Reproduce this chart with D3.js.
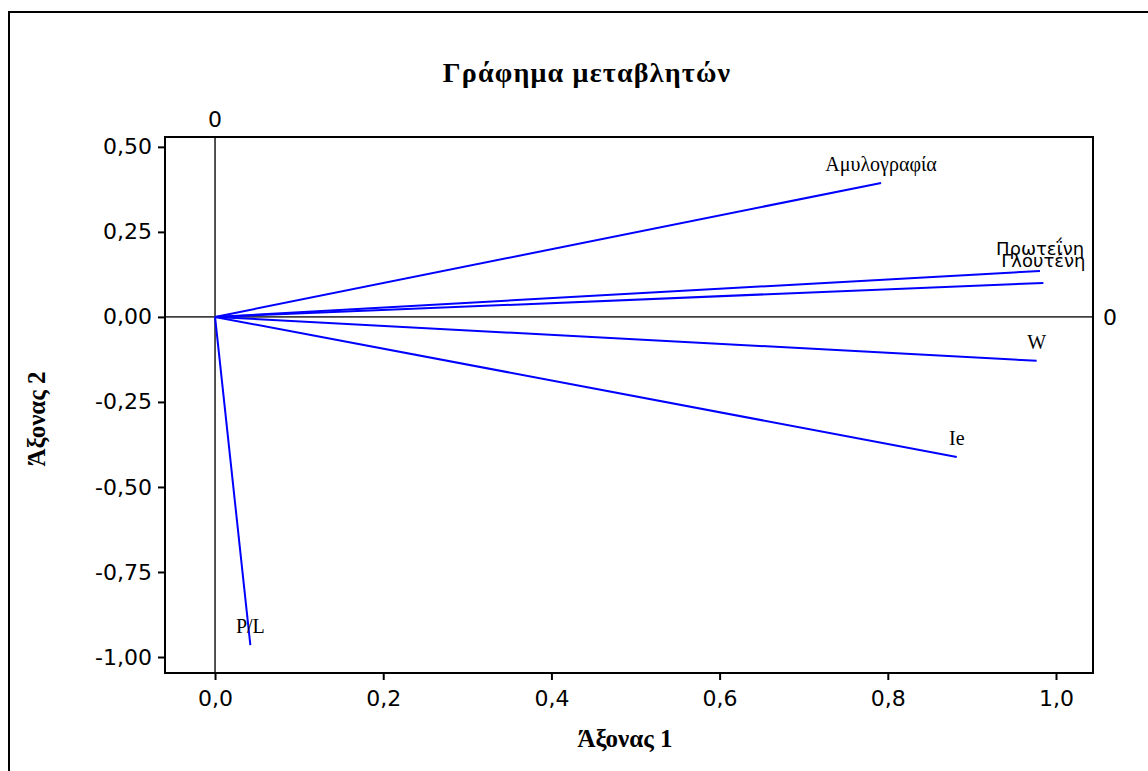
<!DOCTYPE html>
<html>
<head>
<meta charset="utf-8">
<script src="https://cdn.jsdelivr.net/npm/d3@7"></script>
<style>
  body { margin: 0; background: #fff; }
  .tick text { font-family: "DejaVu Sans", sans-serif; font-size: 22px; fill: #000; }
  .tick line { stroke: #000; stroke-width: 2; }
  .domain { display: none; }
</style>
</head>
<body>
<div id="chart"></div>
<script>
var svgWidth = 1148;
var svgHeight = 771;

// variables and their coordinates on the two axes
var variables = ["Αμυλογραφία", "Πρωτεΐνη", "Γλουτένη", "W", "Ie", "P/L"];
var axis1 = [0.792, 0.981, 0.985, 0.977, 0.882, 0.042];
var axis2 = [0.394, 0.135, 0.100, -0.129, -0.412, -0.965];
var sansLabels = ["Πρωτεΐνη", "Γλουτένη"];

var xTicks = [0, 0.2, 0.4, 0.6, 0.8, 1.0];
var yTicks = [0.5, 0.25, 0, -0.25, -0.5, -0.75, -1.0];

var margin = { top: 137, right: 55, bottom: 98, left: 165 };
var width = svgWidth - margin.left - margin.right;
var height = svgHeight - margin.top - margin.bottom;

var svg = d3.select("#chart")
  .append("svg")
  .attr("width", svgWidth)
  .attr("height", svgHeight);

// outer frame
svg.append("rect")
  .attr("x", 9).attr("y", 12)
  .attr("width", 1160).attr("height", 800)
  .attr("fill", "none")
  .attr("stroke", "#000")
  .attr("stroke-width", 2);

svg.append("text")
  .attr("x", 587).attr("y", 82)
  .attr("text-anchor", "middle")
  .attr("font-family", "Liberation Serif, serif")
  .attr("font-weight", "bold")
  .attr("font-size", 28)
  .attr("letter-spacing", 1.2)
  .text("Γράφημα μεταβλητών");

var chart = svg.append("g")
  .attr("transform", `translate(${margin.left}, ${margin.top})`);

var xScale = d3.scaleLinear()
  .domain([-0.0595, 1.044])
  .range([0, width]);

var yScale = d3.scaleLinear()
  .domain([-1.047, 0.529])
  .range([height, 0]);

var fmt = function(n) { return d3.format(".1f")(n).replace(".", ",").replace("−", "-"); };
var fmtY = function(n) { return d3.format(".2f")(n).replace(".", ",").replace("−", "-"); };

chart.append("g")
  .attr("transform", `translate(0, ${height})`)
  .call(d3.axisBottom(xScale).tickValues(xTicks).tickSize(7).tickPadding(10).tickFormat(fmt));

chart.append("g")
  .call(d3.axisLeft(yScale).tickValues(yTicks).tickSize(7).tickPadding(6).tickFormat(fmtY));

// zero reference lines
chart.append("line")
  .attr("x1", xScale(0)).attr("x2", xScale(0))
  .attr("y1", 0).attr("y2", height)
  .attr("stroke", "#404040").attr("stroke-width", 1.8);

chart.append("line")
  .attr("x1", 0).attr("x2", width)
  .attr("y1", yScale(0)).attr("y2", yScale(0))
  .attr("stroke", "#404040").attr("stroke-width", 1.8);

chart.append("text")
  .attr("x", xScale(0)).attr("y", -10)
  .attr("text-anchor", "middle")
  .attr("font-family", "DejaVu Sans, sans-serif")
  .attr("font-size", 22)
  .text("0");

chart.append("text")
  .attr("x", width + 17).attr("y", yScale(0) + 8)
  .attr("text-anchor", "middle")
  .attr("font-family", "DejaVu Sans, sans-serif")
  .attr("font-size", 22)
  .text("0");

var data = variables.map(function(v, i) {
  return { name: v, x: axis1[i], y: axis2[i] };
});

chart.selectAll(".vec")
  .data(data)
  .enter()
  .append("line")
  .attr("class", "vec")
  .attr("x1", xScale(0))
  .attr("y1", yScale(0))
  .attr("x2", d => xScale(d.x))
  .attr("y2", d => yScale(d.y))
  .attr("stroke", "#0000ff")
  .attr("stroke-width", 2);

chart.selectAll(".lbl")
  .data(data)
  .enter()
  .append("text")
  .attr("class", "lbl")
  .attr("text-anchor", "middle")
  .attr("x", d => xScale(d.x))
  .attr("y", d => yScale(d.y) - (sansLabels.includes(d.name) ? 16 : 12))
  .attr("font-family", d => sansLabels.includes(d.name) ? "DejaVu Sans, sans-serif" : "Liberation Serif, serif")
  .attr("font-size", d => sansLabels.includes(d.name) ? 18 : 20)
  .text(d => d.name);

// axis titles
chart.append("text")
  .attr("x", 460).attr("y", height + 74)
  .attr("text-anchor", "middle")
  .attr("font-family", "Liberation Serif, serif")
  .attr("font-weight", "bold")
  .attr("font-size", 25)
  .text("Άξονας 1");

chart.append("text")
  .attr("transform", `translate(-120, ${yScale(-0.3)}) rotate(-90)`)
  .attr("text-anchor", "middle")
  .attr("font-family", "Liberation Serif, serif")
  .attr("font-weight", "bold")
  .attr("font-size", 25)
  .text("Άξονας 2");

// plot box
chart.append("rect")
  .attr("width", width).attr("height", height)
  .attr("fill", "none")
  .attr("stroke", "#000")
  .attr("stroke-width", 2);
</script>
</body>
</html>
